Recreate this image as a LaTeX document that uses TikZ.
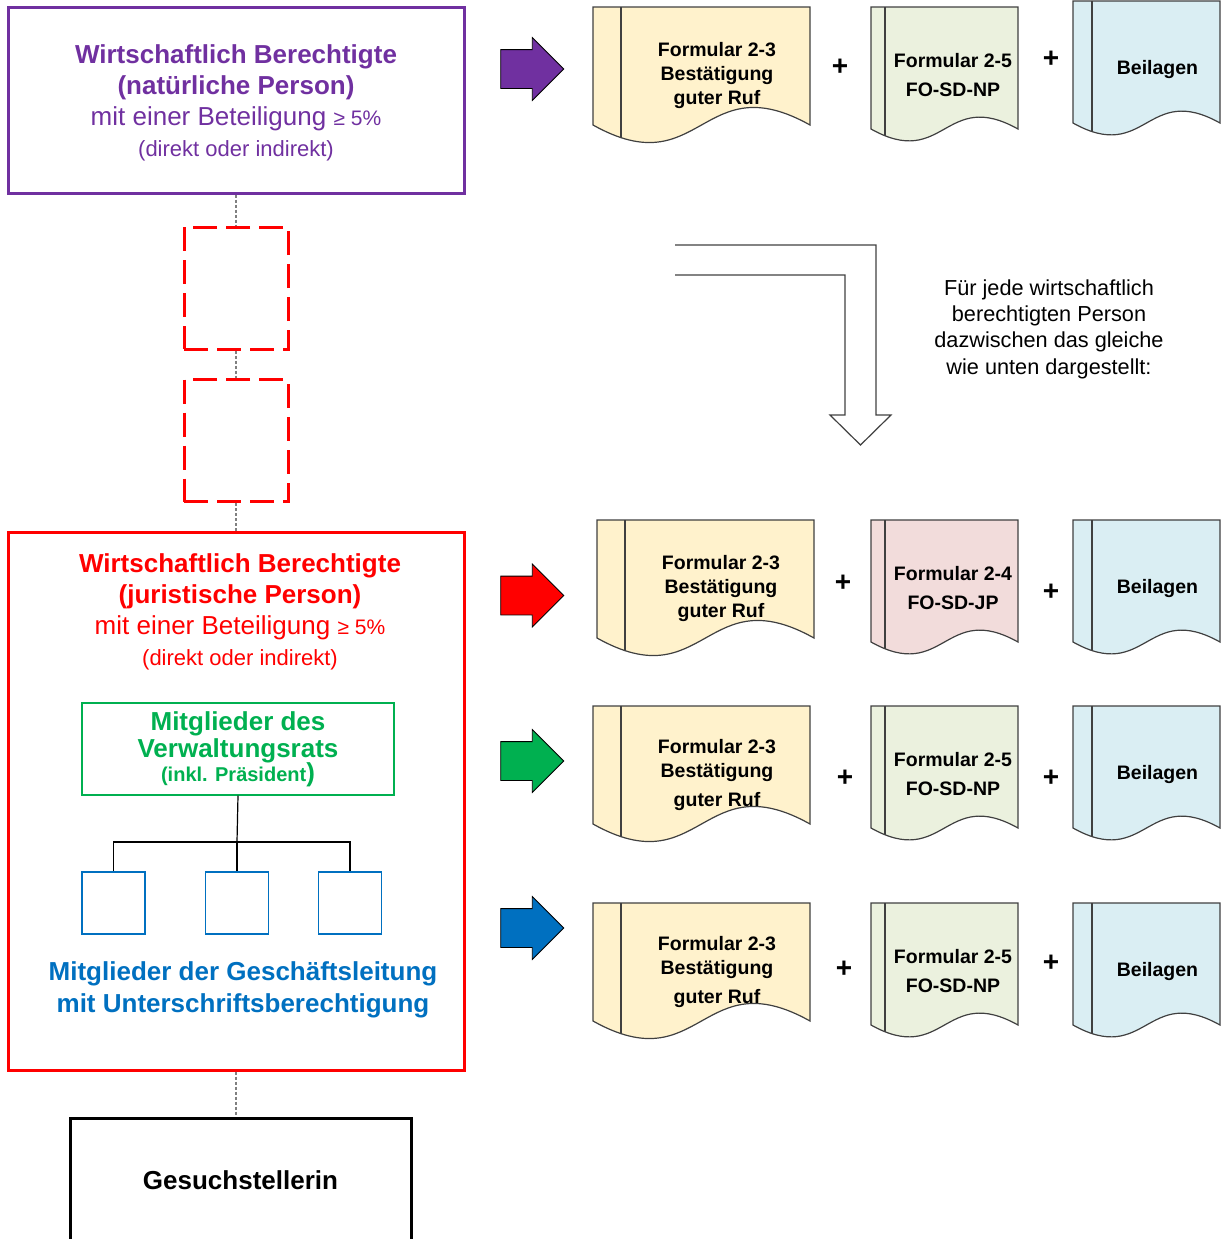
\documentclass[tikz,border=0pt]{standalone}
\usepackage{fontspec}
\setmainfont{Liberation Sans}
\usetikzlibrary{shapes, arrows, positioning, calc}

\definecolor{npurple}{HTML}{7030A0}
\definecolor{jred}{HTML}{FF0000}
\definecolor{vrgreen}{HTML}{00B050}
\definecolor{glblue}{HTML}{0070C0}
\definecolor{formyellow}{HTML}{FFF2CC}
\definecolor{formgreen}{HTML}{EBF1DE}
\definecolor{formpink}{HTML}{F2DCDB}
\definecolor{formblue}{HTML}{DAEEF3}
\definecolor{docgray}{HTML}{404040}

\tikzset{
	ownerbox/.style={draw, line width=1.5pt, minimum width=228pt, align=center},
	ownertext/.style={align=center, font=\fontsize{13}{15.5}\selectfont},
	gapbox/.style={draw=jred, line width=1.5pt, dash pattern=on 12pt off 4.5pt, minimum width=52pt, minimum height=61pt},
	memberbox/.style={draw=glblue, line width=0.6pt, minimum width=31.5pt, minimum height=31pt},
	linkline/.style={draw=gray, line width=0.75pt, dash pattern=on 1.5pt off 1pt},
	treeline/.style={draw=black, line width=0.6pt},
	blockarrow/.style={single arrow, draw=black, line width=0.4pt, minimum height=31.5pt, inner xsep=0pt, inner ysep=9.5pt, single arrow head extend=6pt},
	docline/.style={draw=docgray, line width=0.6pt},
	doctext/.style={font=\fontsize{9.75}{12}\selectfont\bfseries, align=center},
	plussign/.style={font=\fontsize{14}{14}\selectfont\bfseries},
}

% form sheet: name, x, y, width, height, spine, fill, text
\newcommand{\formdoc}[8]{%
	\pgfmathsetmacro\docR{#2+#4}
	\pgfmathsetmacro\docB{#3+#5}
	\pgfmathsetmacro\docM{#2+0.5*#4}
	\pgfmathsetmacro\docU{#3+#5-0.28*#4}
	\pgfmathsetmacro\docD{#3+#5+0.28*#4}
	\pgfmathsetmacro\docS{#2+#6}
	\pgfmathsetmacro\docT{#2+#6+0.5*(#4-#6)+1.5}
	\pgfmathsetmacro\docC{#3+68.5}
	\filldraw[docline, fill=#7] (#2,#3) -- (\docR,#3) -- (\docR,\docB) .. controls (\docM,\docU) and (\docM,\docD) .. (#2,\docB) -- cycle;
	\begin{scope}
		\clip (#2,#3) -- (\docR,#3) -- (\docR,\docB) .. controls (\docM,\docU) and (\docM,\docD) .. (#2,\docB) -- cycle;
		\draw[docline] (\docS,#3) -- (\docS,\docD);
	\end{scope}
	\node[doctext] (#1) at (\docT,\docC) {#8};
}

\begin{document}
\begin{tikzpicture}[x=0.5pt, y=-0.5pt]
	\useasboundingbox (0,0) rectangle (1225,1239);
	\clip (0,0) rectangle (1225,1239);

	% left column
	\node[ownerbox, draw=npurple, minimum height=93pt] (np) at (236,100) {};
	\node[ownertext, text=npurple] (nptext) at (236,103)
		{\textbf{Wirtschaftlich Berechtigte}\\\textbf{(natürliche Person)}\\
		 mit einer Beteiligung {\fontsize{10.5}{12}\selectfont ≥ 5\%}\\
		 {\fontsize{11}{15}\selectfont (direkt oder indirekt)}};
	\node[gapbox] (gap1) at (236,288) {};
	\node[gapbox] (gap2) at (236,440.5) {};
	\node[ownerbox, draw=jred, minimum height=269pt] (jp) at (236,801) {};
	\node[ownertext, text=jred] (jptext) at (240,611.5)
		{\textbf{Wirtschaftlich Berechtigte}\\\textbf{(juristische Person)}\\
		 mit einer Beteiligung {\fontsize{10.5}{12}\selectfont ≥ 5\%}\\
		 {\fontsize{11}{15}\selectfont (direkt oder indirekt)}};
	\node[draw=vrgreen, line width=0.6pt, minimum width=156pt, minimum height=46pt, text=vrgreen, align=center,
		font=\bfseries\fontsize{13}{13.5}\selectfont] (vr) at (238,749)
		{Mitglieder des\\Verwaltungsrats\\[-1.5pt]{\fontsize{10}{12}\selectfont (inkl. Präsident}{\fontsize{13}{12}\selectfont )}};
	\foreach \i/\x in {1/113.5, 2/237, 3/350}
		\node[memberbox] (gl\i) at (\x,903) {};
	\coordinate (fork) at (237,842);
	\draw[treeline] (vr.south) -- (fork);
	\foreach \i in {1,2,3}
		\draw[treeline] (fork) -| (gl\i.north);
	\node[text=glblue, align=center, font=\bfseries\fontsize{13}{16}\selectfont] (gltext) at (243,990)
		{Mitglieder der Geschäftsleitung\\mit Unterschriftsberechtigung};
	\node[ownerbox, draw=black, minimum width=170.5pt, minimum height=62pt, font=\bfseries\fontsize{13}{16}\selectfont] (gs) at (240.5,1180) {Gesuchstellerin};

	\draw[linkline] (np.south) -- (gap1.north);
	\draw[linkline] (gap1.south) -- (gap2.north);
	\draw[linkline] (gap2.south) -- (jp.north);
	\draw[linkline] (jp.south) -- (jp.south |- gs.north);

	% arrows
	\foreach \n/\y/\c in {np/69/npurple, jp/595.5/jred, vr/761/vrgreen, gl/928/glblue}
		\node[blockarrow, fill=\c] (arr\n) at (522.5,\y) {};

	\draw[docline] (675,245) -- (876,245) -- (876,415) -- (891,415) -- (860.5,445) -- (830,415) -- (845,415) -- (845,275) -- (675,275);
	\node[align=center, font=\fontsize{10.85}{13.15}\selectfont] (note) at (1049,329)
		{Für jede wirtschaftlich\\berechtigten Person\\dazwischen das gleiche\\wie unten dargestellt:};

	% forms
	\formdoc{f23a}{593}{7}{217}{118}{28}{formyellow}{Formular 2-3\\Bestätigung\\guter Ruf}
	\node[plussign] (plusa1) at (840,67) {+};
	\formdoc{f25a}{871}{7}{147}{122}{14}{formgreen}{Formular 2-5\\[2.5pt]FO-SD-NP}
	\node[plussign] (plusa2) at (1051,59) {+};
	\formdoc{beia}{1073}{1}{147}{122}{19}{formblue}{Beilagen}

	\formdoc{f23b}{597}{520}{217}{118}{28}{formyellow}{Formular 2-3\\Bestätigung\\guter Ruf}
	\node[plussign] (plusb1) at (843,583) {+};
	\formdoc{f24b}{871}{520}{147}{122}{14}{formpink}{Formular 2-4\\[2.5pt]FO-SD-JP}
	\node[plussign] (plusb2) at (1051,592) {+};
	\formdoc{beib}{1073}{520}{147}{122}{19}{formblue}{Beilagen}

	\formdoc{f23c}{593}{706}{217}{118}{28}{formyellow}{Formular 2-3\\Bestätigung\\[2.5pt]guter Ruf}
	\node[plussign] (plusc1) at (845,778) {+};
	\formdoc{f25c}{871}{706}{147}{122}{14}{formgreen}{Formular 2-5\\[2.5pt]FO-SD-NP}
	\node[plussign] (plusc2) at (1051,778) {+};
	\formdoc{beic}{1073}{706}{147}{122}{19}{formblue}{Beilagen}

	\formdoc{f23d}{593}{903}{217}{118}{28}{formyellow}{Formular 2-3\\Bestätigung\\[2.5pt]guter Ruf}
	\node[plussign] (plusd1) at (844,969) {+};
	\formdoc{f25d}{871}{903}{147}{122}{14}{formgreen}{Formular 2-5\\[2.5pt]FO-SD-NP}
	\node[plussign] (plusd2) at (1051,963) {+};
	\formdoc{beid}{1073}{903}{147}{122}{19}{formblue}{Beilagen}
\end{tikzpicture}
\end{document}
